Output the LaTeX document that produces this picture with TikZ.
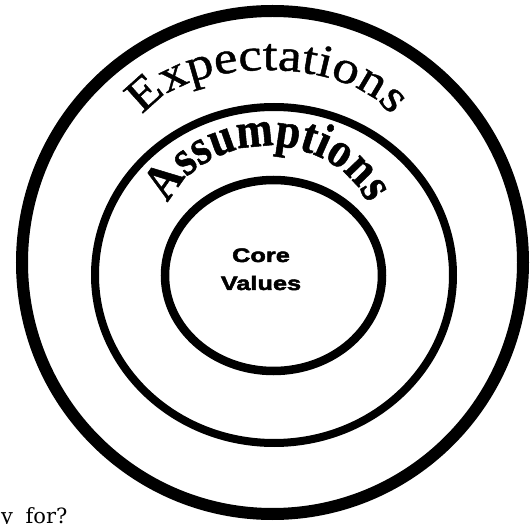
\documentclass[tikz,border=0pt]{standalone}
\usepackage{fontspec}
\usetikzlibrary{decorations.text}
\newfontfamily\expfont[FakeStretch=1.15,FakeBold=1]{Liberation Serif}
\newfontfamily\assfont[FakeStretch=0.88,FakeBold=1]{Liberation Serif}
\newfontfamily\corefont[FakeStretch=1.3,FakeBold=2.5]{Liberation Sans}
\newfontfamily\notefont{DejaVu Serif}
\newcommand\expstyle{\expfont\fontsize{46}{50}\selectfont}
\newcommand\assstyle{\assfont\bfseries\fontsize{50}{54}\selectfont}
\begin{document}
\begin{tikzpicture}[x=1pt,y=1pt,
  ring/.style={draw=black},
  corestyle/.style={font=\corefont\bfseries\fontsize{19.5}{24}\selectfont, inner sep=0pt, anchor=base},
  notestyle/.style={font=\notefont\fontsize{21}{24}\selectfont, inner sep=0pt, anchor=base west}]
\clip (0,0) rectangle (531,523);
\fill[white] (0,0) rectangle (531,523);
% rings
\draw[ring, line width=12pt] (272.5,260.5) ellipse [x radius=250.5pt, y radius=251.5pt];
\draw[ring, line width=8pt] (274,248) ellipse [x radius=179pt, y radius=168pt];
\draw[ring, line width=8.5pt] (273.5,247.5) ellipse [x radius=108.5pt, y radius=95.5pt];
% arched labels
\path[decorate, decoration={text along path, text={|\expstyle|Expectations}, text align=center}]
  (137.5,392.75) arc[start angle=175, end angle=5, x radius=130pt, y radius=66pt];
\path[decorate, decoration={text along path, text={|\assstyle|Assumptions}, text align=center}]
  (163.6,304.3) arc[start angle=170, end angle=10, x radius=106pt, y radius=88pt];
% centre label
\node[corestyle] (core) at (261,261) {Core};
\node[corestyle] (values) at (261,233) {Values};
% cut-off caption
\node[notestyle] (note) at (1,-1) {y\hspace{0.6em}for?};
\end{tikzpicture}
\end{document}
